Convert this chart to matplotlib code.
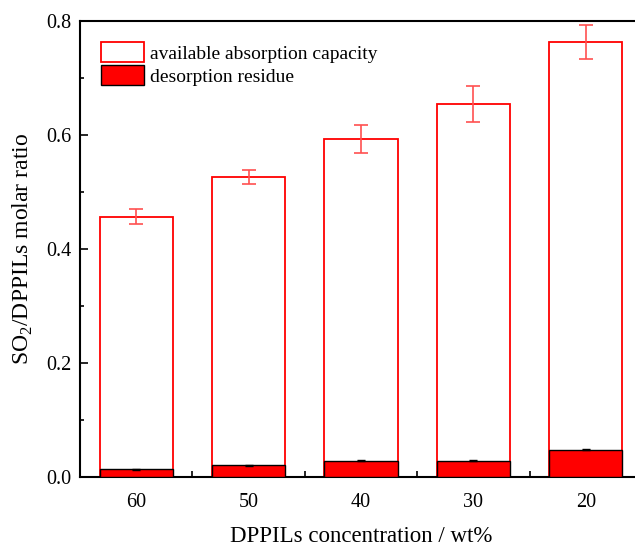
import matplotlib.pyplot as plt
import numpy as np
from matplotlib.ticker import MultipleLocator

plt.rcParams['font.family'] = ['Liberation Serif', 'DejaVu Serif']
plt.rcParams['mathtext.fontset'] = 'custom'
plt.rcParams['mathtext.rm'] = 'Liberation Serif'

# dados
concentracao = ['60', '50', '40', '30', '20']
capacidade = [0.456, 0.526, 0.593, 0.654, 0.763]
erro_capacidade = [0.013, 0.013, 0.024, 0.032, 0.030]
residuo = [0.013, 0.020, 0.028, 0.028, 0.047]
erro_residuo = [0.001, 0.001, 0.001, 0.001, 0.001]

x = np.arange(len(concentracao))

fig = plt.figure(figsize=(6.35, 5.47), dpi=100)
ax = fig.add_axes([80 / 635, 1 - 476.5 / 547, 562 / 635, 455.5 / 547])

ax.bar(x, capacidade, width=0.65, color='white', edgecolor='red', linewidth=1.3,
       yerr=erro_capacidade, error_kw=dict(ecolor='#ff5050', capsize=5, elinewidth=1.2, capthick=1.2),
       label='available absorption capacity', zorder=2)
ax.bar(x, residuo, width=0.65, color='red', edgecolor='black', linewidth=1.0,
       yerr=erro_residuo, error_kw=dict(ecolor='black', capsize=3, elinewidth=0.8),
       label='desorption residue', zorder=3)

ax.set_xlim(-0.5, 4.5)
ax.set_ylim(0, 0.8)
ax.set_xticks(x)
ax.set_xticklabels(concentracao)
ax.xaxis.set_minor_locator(plt.FixedLocator(x[:-1] + 0.5))
ax.yaxis.set_major_locator(MultipleLocator(0.2))
ax.yaxis.set_minor_locator(MultipleLocator(0.1))
ax.yaxis.set_major_formatter(plt.FormatStrFormatter('%.1f'))

ax.tick_params(axis='both', which='both', direction='in', labelsize=14.5, width=1.2)
ax.tick_params(axis='x', which='major', length=0, pad=12)
ax.tick_params(axis='x', which='minor', length=4)
ax.tick_params(axis='y', which='major', length=6, pad=6)
ax.tick_params(axis='y', which='minor', length=3)
for s in ax.spines.values():
    s.set_linewidth(1.5)

ax.set_xlabel('DPPILs concentration / wt%', fontsize=16.5, labelpad=10)
ax.set_ylabel('SO$_2$/DPPILs molar ratio', fontsize=17, labelpad=8)

ax.legend(loc='upper left', frameon=False, fontsize=14, handlelength=2.2, handleheight=1.2,
          borderaxespad=0.4, bbox_to_anchor=(0.01, 0.988), handletextpad=0.3, labelspacing=0.15)

plt.savefig('out.png', dpi=100)
